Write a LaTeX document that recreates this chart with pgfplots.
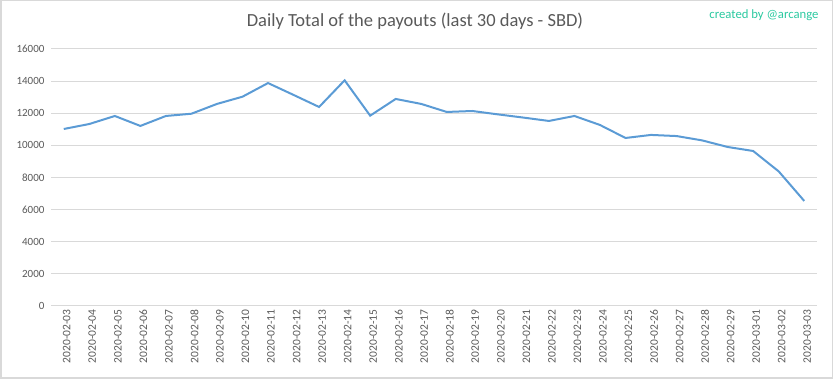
\documentclass[border=0pt]{standalone}
\usepackage{fontspec}
\setmainfont{Carlito}
\usepackage{pgfplots}
\pgfplotsset{compat=1.18}
\definecolor{linecol}{HTML}{5B9BD5}
\definecolor{gridcol}{HTML}{D9D9D9}
\definecolor{txtcol}{HTML}{595959}
\definecolor{sigcol}{HTML}{2BC9A0}
\begin{document}
\begin{tikzpicture}
\useasboundingbox (0pt,0pt) rectangle (833pt,379pt);
\draw[gridcol, line width=1.5pt] (0.75pt,0.75pt) rectangle (832.25pt,378.25pt);
\begin{axis}[
  at={(51pt,73pt)}, anchor=south west,
  scale only axis, width=766pt, height=257pt,
  xmin=-0.5, xmax=29.5, ymin=0, ymax=16000,
  ytick={0,2000,...,16000},
  xtick={0,...,29},
  xticklabels={2020-02-03,2020-02-04,2020-02-05,2020-02-06,2020-02-07,2020-02-08,2020-02-09,2020-02-10,2020-02-11,2020-02-12,2020-02-13,2020-02-14,2020-02-15,2020-02-16,2020-02-17,2020-02-18,2020-02-19,2020-02-20,2020-02-21,2020-02-22,2020-02-23,2020-02-24,2020-02-25,2020-02-26,2020-02-27,2020-02-28,2020-02-29,2020-03-01,2020-03-02,2020-03-03},
  x tick label style={rotate=90, anchor=east, font=\fontsize{11.5}{12}\selectfont, text=txtcol, yshift=-3pt},
  y tick label style={font=\fontsize{11}{12}\selectfont, text=txtcol, xshift=-3pt},
  scaled y ticks=false,
  /pgf/number format/.cd, 1000 sep={}, assume math mode=true, /pgfplots/.cd,
  ymajorgrids, grid style={gridcol, line width=1pt},
  axis line style={draw=none},
  major tick length=0pt,
]
\addplot[linecol, line width=2pt] coordinates {
(0,11020) (1,11330) (2,11830) (3,11210) (4,11830) (5,11970) (6,12580) (7,13030) (8,13880) (9,13140)
(10,12390) (11,14050) (12,11850) (13,12890) (14,12580) (15,12080) (16,12140) (17,11930) (18,11730) (19,11520)
(20,11830) (21,11270) (22,10460) (23,10650) (24,10580) (25,10310) (26,9900) (27,9650) (28,8380) (29,6540)
};
\end{axis}
\node[text=txtcol, font=\fontsize{18.5}{22}\selectfont] at (415pt,358pt) {Daily Total of the payouts (last 30 days - SBD)};
\node[text=sigcol, font=\fontsize{12.7}{15}\selectfont, anchor=east] at (822pt,364pt) {created by @arcange};
\end{tikzpicture}
\end{document}
